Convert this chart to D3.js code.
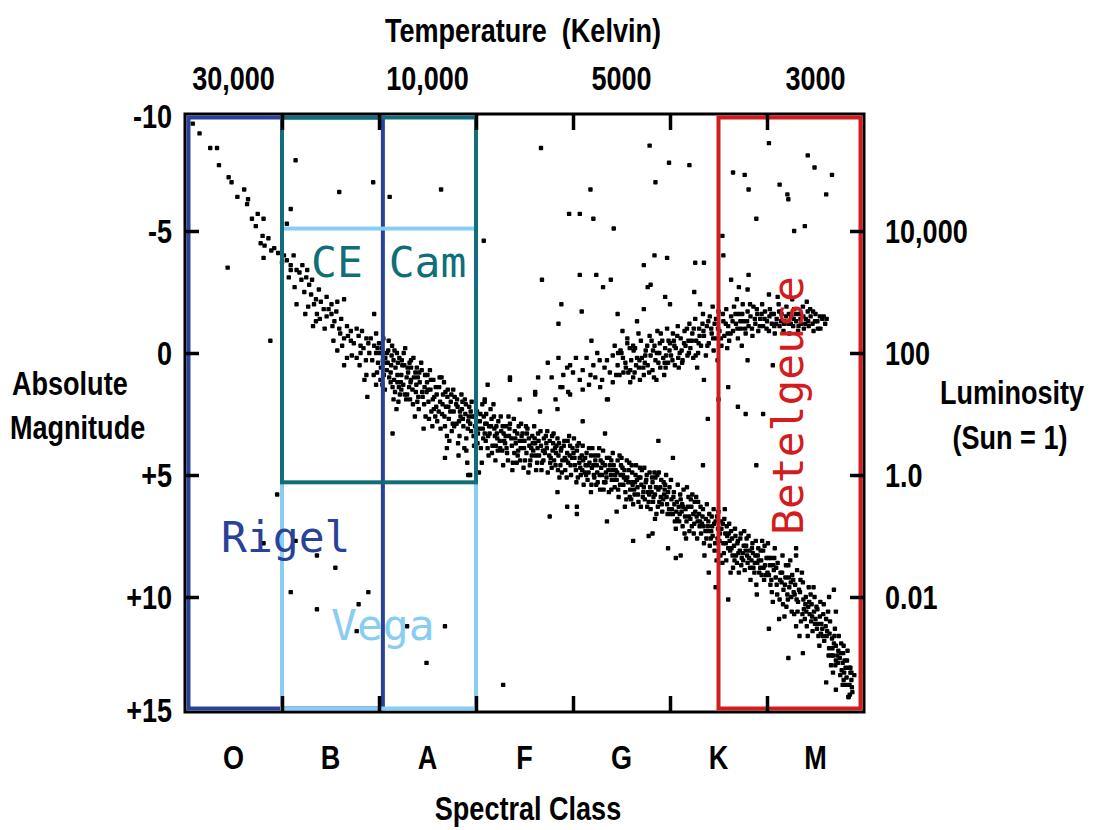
<!DOCTYPE html>
<html>
<head>
<meta charset="utf-8">
<script src="https://cdn.jsdelivr.net/npm/d3@7"></script>
<style>
  body { margin: 0; background: white; }
  .lbl { font-family: "Liberation Sans", Arial, sans-serif; font-weight: bold; fill: #000; }
  .star { font-family: "DejaVu Sans Mono", monospace; }
</style>
</head>
<body>
<div id="chart"></div>
<script>
// spectral subclass index: O0 = 0 ... M9 = 69 ; y = absolute magnitude
const spectralClasses = ["O", "B", "A", "F", "G", "K", "M"];
const classEdges = [10, 20, 30, 40, 50, 60];
const tempLabels = ["30,000", "10,000", "5000", "3000"];
const tempClasses = ["O", "A", "G", "M"];
const magTicks = [-10, -5, 0, 5, 10, 15];
const magLabels = ["-10", "-5", "0", "+5", "+10", "+15"];
const lumMags = [-5, 0, 5, 10];
const lumLabels = ["10,000", "100", "1.0", "0.01"];

const boxNames = ["Rigel", "Vega", "CE Cam", "Betelgeuse"];
const boxSpectral = [[0, 20.4], [10, 30], [10, 30], [55, 70]];
const boxMag = [[-10, 15], [-5.1, 15], [-10, 5.3], [-10, 15]];

const mainSequence = [
  [0.8,-9.4],[1.5,-9.0],[2.6,-8.4],[3.3,-8.4],[3.5,-7.7],[4.5,-7.2],[4.8,-7.0],[5.4,-6.4],[6.1,-6.7],[6.5,-6.3],[6.4,-6.1],[7.5,-5.7],[8.1,-5.5],[6.9,-5.5],[7.3,-5.2],[8.0,-4.8],[8.6,-4.7],[7.8,-4.5],[8.2,-4.4],[9.2,-4.3],[8.9,-4.2],[8.1,-3.9],
  [10.2,-4.0],[10.5,-3.8],[10.9,-3.6],[11.2,-4.0],[10.9,-3.4],[10.7,-3.1],[11.5,-3.4],[12.1,-3.6],[12.0,-3.0],[12.5,-3.1],[12.8,-2.8],[13.1,-3.0],[12.3,-2.5],[13.8,-2.6],[13.5,-2.2],[11.5,-2.0],[13.3,-2.0],[14.0,-2.1],[14.6,-2.3],[14.3,-1.8],[13.6,-1.6],[13.5,-1.3],[15.1,-2.0],[15.7,-2.1],[16.4,-2.2],[15.1,-1.6],[15.6,-1.7],[16.1,-1.4],[15.2,-1.1],[15.9,-1.0],[16.7,-1.1],[17.1,-0.9],[17.7,-1.0],[16.4,-0.6],[15.7,-0.1],[17.1,-0.5],[18.1,-0.3],[18.7,-0.6],[19.7,-0.8],[19.5,-1.6],[18.1,0.0],[19.0,0.0],[19.7,0.0],[16.7,0.2],[16.4,0.5],[17.7,0.2],[18.7,0.9],[19.8,0.8],[19.7,1.3],[18.8,1.8],
  [9.6,-4.1],[10.0,-3.7],[11.8,-3.3],[12.6,-3.4],[11.3,-2.7],[13.0,-2.4],[12.7,-1.9],[14.8,-1.8],[13.9,-1.4],[14.6,-1.5],[15.4,-1.3],[16.0,-0.8],[16.8,-0.7],[17.4,-0.4],[17.9,-0.7],[18.4,-0.2],[18.9,-0.4],[19.3,0.3],[19.9,0.4],[18.0,0.5],[17.2,0.1],[16.2,-0.3],[15.3,-0.5],[14.4,-1.0],[13.2,-1.1],[12.4,-1.6],[19.5,-0.3],[20.2,0.6],[20.0,-0.4],[18.5,1.1],
  [20.8,0.0],[21.5,0.3],[20.8,0.7],[21.9,0.9],[22.6,0.5],[23.3,0.6],[21.2,1.2],[22.3,1.5],[23.3,1.1],[21.5,1.9],[22.9,1.7],
  [20.3,-0.2],[20.5,0.9],[20.6,1.5],[20.9,0.4],[21.0,-0.5],[21.2,0.8],[21.4,1.4],[21.6,-0.1],[21.7,0.6],[21.9,1.2],[22.0,2.0],[22.1,0.2],[22.3,0.9],[22.5,1.3],[22.7,-0.2],[22.8,1.9],[23.0,0.8],[23.1,1.4],[23.3,0.3],[23.5,2.1],[23.6,1.0],[23.8,1.6],[23.9,0.6],[24.1,2.3],[24.2,1.2],[24.4,0.7],[24.5,1.8],[24.7,1.4],[24.8,2.6],[25.0,0.9],[25.1,2.0],[25.3,1.5],[25.4,2.4],[25.6,1.1],[25.7,1.8],[25.9,2.2],[26.0,2.8],[26.2,1.4],[26.3,2.0],[26.5,2.5],[26.6,1.7],[26.8,3.0],[26.9,2.2],[27.1,1.5],[27.2,2.7],[27.4,2.0],[27.5,3.2],[27.7,2.4],[27.8,1.8],[28.0,2.9],[28.1,2.2],[28.3,3.4],[28.4,2.6],[28.6,2.0],[28.7,3.0],[28.9,2.5],[29.0,3.5],[29.2,2.8],[29.3,2.2],[29.5,3.2],[29.6,2.6],[29.8,3.8],[29.9,3.0],[20.4,0.3],[21.3,0.1],[22.4,0.5],[23.2,1.9],[24.0,1.0],[24.9,1.6],[25.8,2.6],[26.7,1.2],[27.6,2.9],[28.5,1.7],[29.4,2.9],[23.7,2.6],[25.5,3.0],[27.0,3.4],[28.8,3.9],[21.8,2.3],[24.6,3.1],
  [18.25,-0.9],[18.65,0.3],[19.15,-0.6],[19.45,0.9],[19.85,-0.2],[20.15,1.1],[20.45,-0.6],[20.75,0.4],[21.05,1.0],[21.35,-0.3],[21.65,1.6],[21.95,0.4],[22.25,1.2],[22.55,0.0],[22.85,1.0],[23.15,0.4],[23.45,1.5],[23.75,0.8],[24.05,1.8],[24.35,0.4],[24.65,2.1],[24.95,1.2],[25.25,0.7],[25.55,1.9],[25.85,1.4],[26.15,2.4],[26.45,1.0],[26.75,2.6],[27.05,1.8],[27.35,2.4],[27.65,1.5],[27.95,2.1],[28.25,2.8],[28.55,2.3],[28.85,1.9],[29.15,3.1],[29.45,2.4],[29.75,3.4],[22.15,1.7],[23.95,2.0],[25.15,2.7],[26.35,3.1],[27.25,3.6],[28.15,3.7],
  [20.05,0.0],[20.35,1.3],[20.65,0.2],[20.95,-0.1],[21.25,0.5],[21.55,1.1],[21.85,0.0],[22.05,1.4],[22.35,0.3],[22.65,1.7],[22.95,0.6],[23.25,1.2],[23.55,0.2],[23.85,1.3],[24.15,0.8],[24.45,1.6],[24.75,0.9],[25.05,1.5],[25.35,1.1],[25.65,2.3],[25.95,1.7],[26.25,1.0],[26.55,2.1],[26.85,1.6],[27.15,2.2],[27.45,1.7],[27.75,3.0],[28.05,1.9],[28.35,2.4],[28.65,2.7],[28.95,2.1],[29.25,2.6],[29.55,2.0],[29.85,2.6],
  [30.1,2.4],[30.2,3.3],[30.4,2.8],[30.5,3.9],[30.7,3.1],[30.8,2.6],[31.0,3.6],[31.1,2.9],[31.3,4.2],[31.4,3.3],[31.6,2.7],[31.7,3.8],[31.9,3.1],[32.0,4.4],[32.2,3.5],[32.3,2.8],[32.5,3.9],[32.6,3.2],[32.8,4.6],[32.9,3.6],[33.1,3.0],[33.2,4.1],[33.4,3.4],[33.5,2.9],[33.7,3.8],[33.8,4.5],[34.0,3.2],[34.1,3.7],[34.3,4.2],[34.4,3.0],[34.6,3.9],[34.7,3.4],[34.9,4.7],[35.0,3.6],[35.2,4.1],[35.3,3.1],[35.5,3.8],[35.6,4.4],[35.8,3.4],[35.9,4.0],[36.1,3.7],[36.2,4.8],[36.4,3.3],[36.5,4.2],[36.7,3.8],[36.8,4.5],[37.0,3.5],[37.1,4.1],[37.3,3.9],[37.4,4.9],[37.6,3.6],[37.7,4.3],[37.9,4.0],[38.0,3.3],[38.2,4.6],[38.3,3.8],[38.5,4.2],[38.6,5.1],[38.8,3.9],[38.9,4.4],[39.1,3.6],[39.2,4.8],[39.4,4.1],[39.5,4.5],[39.7,3.8],[39.8,5.0],[39.9,4.3],[30.6,4.5],[31.5,2.3],[32.1,3.0],[33.0,3.7],[33.9,2.7],[34.8,3.3],[35.4,4.9],[36.0,3.0],[36.9,4.0],[37.8,4.7],[38.4,3.5],[39.3,4.4],[31.2,3.9],[32.7,4.0],[34.2,4.5],[35.7,3.9],[37.2,3.4],[38.7,4.6],[39.6,3.4],[33.3,4.4],[36.3,4.5],[30.9,3.3],[34.5,3.6],
  [30.15,3.7],[30.45,2.5],[30.75,3.5],[31.05,2.5],[31.35,3.0],[31.65,4.1],[31.95,3.4],[32.25,4.0],[32.55,2.6],[32.85,3.3],[33.15,3.9],[33.45,3.1],[33.75,4.8],[34.05,3.5],[34.35,4.0],[34.65,2.9],[34.95,3.9],[35.25,3.3],[35.55,4.6],[35.85,3.7],[36.15,4.2],[36.45,3.6],[36.75,4.8],[37.05,4.0],[37.35,3.2],[37.65,4.5],[37.95,3.7],[38.25,4.1],[38.55,3.7],[38.85,4.9],[39.15,4.3],[39.45,3.6],[39.75,4.6],[32.05,3.8],[35.05,4.4],[38.05,4.4],
  [30.05,2.8],[30.35,3.1],[30.65,2.1],[30.95,2.9],[31.25,3.4],[31.55,3.0],[31.85,2.6],[32.15,3.3],[32.45,3.6],[32.75,3.0],[33.05,3.4],[33.35,2.6],[33.65,3.5],[33.95,4.1],[34.25,3.3],[34.55,4.4],[34.85,3.6],[35.15,3.0],[35.45,3.5],[35.75,4.2],[36.05,3.5],[36.35,3.9],[36.65,3.2],[36.95,4.4],[37.25,3.7],[37.55,4.2],[37.85,3.4],[38.15,3.9],[38.45,4.8],[38.75,4.0],[39.05,3.8],[39.35,5.1],[39.65,4.2],[39.95,3.9],
  [40.1,3.5],[40.2,4.6],[40.4,4.0],[40.5,5.1],[40.7,4.3],[40.8,5.0],[41.0,3.8],[41.1,5.4],[41.3,4.6],[41.4,4.1],[41.6,4.9],[41.7,4.5],[41.9,5.4],[42.0,3.9],[42.2,5.1],[42.3,4.4],[42.5,4.9],[42.6,4.2],[42.8,5.6],[42.9,4.7],[43.1,4.0],[43.2,5.3],[43.4,4.9],[43.5,4.3],[43.7,5.7],[43.8,4.6],[44.0,5.2],[44.1,4.1],[44.3,5.5],[44.4,4.8],[44.6,4.4],[44.7,5.9],[44.9,5.0],[45.0,4.3],[45.2,5.4],[45.3,4.8],[45.5,6.0],[45.6,5.1],[45.8,4.5],[45.9,5.6],[46.1,4.9],[46.2,6.2],[46.4,5.3],[46.5,4.6],[46.7,5.8],[46.8,5.1],[47.0,6.3],[47.1,4.8],[47.3,5.5],[47.4,6.0],[47.6,5.0],[47.7,5.7],[47.9,4.9],[48.0,6.4],[48.2,5.3],[48.3,5.9],[48.5,5.1],[48.6,6.6],[48.8,5.6],[48.9,6.1],[49.1,5.2],[49.2,6.5],[49.4,5.8],[49.5,5.4],[49.7,6.2],[49.8,5.7],
  [40.3,4.8],[40.9,4.2],[41.5,5.2],[42.1,4.6],[42.7,3.9],[43.3,4.6],[43.9,5.0],[44.5,5.2],[45.1,4.7],[45.7,5.3],[46.3,5.6],[46.9,4.7],[47.5,5.3],[48.1,5.7],[48.7,5.0],[49.3,6.0],[49.9,6.4],[41.2,4.9],[43.0,5.0],[44.2,4.6],[45.4,5.7],[46.6,5.2],[47.8,6.1],[49.0,5.5],[40.6,3.7],[42.4,5.4],[44.8,4.2],[46.0,6.0],[47.2,5.9],[48.4,4.9],[49.6,5.0],
  [40.15,4.3],[40.45,3.8],[40.75,4.7],[41.05,4.4],[41.35,5.0],[41.65,3.9],[41.95,4.7],[42.25,4.2],[42.55,5.3],[42.85,4.4],[43.15,5.6],[43.45,5.1],[43.75,4.3],[44.05,4.8],[44.35,5.0],[44.65,5.6],[44.95,4.6],[45.25,5.1],[45.55,4.4],[45.85,5.9],[46.15,5.4],[46.45,5.0],[46.75,6.1],[47.05,5.4],[47.35,4.7],[47.65,6.3],[47.95,5.5],[48.25,6.1],[48.55,5.5],[48.85,4.9],[49.15,6.2],[49.45,5.6],[49.75,6.6],[41.85,5.7],[43.95,5.6],[46.05,4.6],[48.45,6.8],[45.35,6.3],
  [40.05,4.1],[40.35,5.3],[40.65,4.5],[40.95,4.8],[41.25,4.3],[41.55,4.6],[41.85,4.2],[42.15,5.0],[42.45,4.6],[42.75,5.0],[43.05,4.5],[43.35,5.3],[43.65,4.8],[43.95,4.4],[44.25,5.2],[44.55,4.9],[44.85,5.4],[45.15,5.0],[45.45,5.2],[45.75,4.8],[46.05,5.3],[46.35,5.8],[46.65,5.5],[46.95,5.1],[47.25,5.7],[47.55,5.2],[47.85,5.8],[48.15,5.1],[48.45,5.8],[48.75,6.3],[49.05,5.9],[49.35,5.3],[49.65,5.9],[49.95,5.5],
  [50.1,5.2],[50.2,6.4],[50.4,5.7],[50.5,6.9],[50.7,6.1],[50.8,5.4],[51.0,6.6],[51.1,6.0],[51.3,7.1],[51.4,5.6],[51.6,6.4],[51.7,6.9],[51.9,5.9],[52.0,7.3],[52.2,6.3],[52.3,5.8],[52.5,7.0],[52.6,6.5],[52.8,7.6],[52.9,6.1],[53.1,6.9],[53.2,7.4],[53.4,6.4],[53.5,7.8],[53.7,6.8],[53.8,6.2],[54.0,7.3],[54.1,7.9],[54.3,6.7],[54.4,7.5],[54.6,8.1],[54.7,6.9],[54.9,7.6],[55.0,6.5],[55.2,8.3],[55.3,7.2],[55.5,7.8],[55.6,6.8],[55.8,8.5],[55.9,7.5],[56.1,7.0],[56.2,8.1],[56.4,7.6],[56.5,8.8],[56.7,7.2],[56.8,8.3],[57.0,7.7],[57.1,9.0],[57.3,7.4],[57.4,8.4],[57.6,7.9],[57.7,8.9],[57.9,7.6],[58.0,8.6],[58.2,8.1],[58.3,9.3],[58.5,7.8],[58.6,8.8],[58.8,8.3],[58.9,9.5],[59.1,8.0],[59.2,9.0],[59.4,8.5],[59.5,7.7],[59.7,9.3],[59.8,8.7],
  [50.3,6.6],[50.9,6.3],[51.5,7.4],[52.1,6.8],[52.7,5.9],[53.3,7.0],[53.9,7.1],[54.5,6.4],[55.1,7.7],[55.7,7.4],[56.3,7.3],[56.9,8.6],[57.5,8.2],[58.1,7.5],[58.7,9.0],[59.3,8.8],[59.9,9.1],[51.2,6.5],[53.0,6.6],[54.2,7.6],[55.4,8.6],[56.6,7.9],[57.8,8.1],[59.0,8.6],[50.6,7.2],[52.4,6.6],[54.8,8.5],[56.0,8.0],[57.2,8.1],[58.4,8.5],[59.6,8.1],
  [50.15,6.0],[50.45,6.2],[50.75,6.8],[51.05,5.8],[51.35,6.3],[51.65,7.6],[51.95,6.7],[52.25,7.1],[52.55,6.1],[52.85,6.9],[53.15,6.3],[53.45,7.1],[53.75,7.6],[54.05,6.6],[54.35,7.1],[54.65,7.8],[54.95,7.2],[55.25,6.9],[55.55,8.2],[55.85,7.1],[56.15,7.7],[56.45,8.3],[56.75,7.5],[57.05,8.2],[57.35,8.7],[57.65,7.3],[57.95,8.3],[58.25,8.8],[58.55,8.2],[58.85,7.7],[59.15,8.5],[59.45,9.1],[59.75,7.9],[53.55,8.3],[56.25,9.0],[58.95,9.9],[51.75,5.5],[55.65,6.4],
  [50.05,6.6],[50.35,5.9],[50.65,6.5],[50.95,6.9],[51.25,6.2],[51.55,6.7],[51.85,6.3],[52.15,6.0],[52.45,7.4],[52.75,6.7],[53.05,7.1],[53.35,6.7],[53.65,7.3],[53.95,6.9],[54.25,7.3],[54.55,7.0],[54.85,6.7],[55.15,7.4],[55.45,7.0],[55.75,7.8],[56.05,7.4],[56.35,8.0],[56.65,8.5],[56.95,7.8],[57.25,7.6],[57.55,8.5],[57.85,7.9],[58.15,8.4],[58.45,8.0],[58.75,8.6],[59.05,8.3],[59.35,8.1],[59.65,8.8],[59.95,8.4],
  [60.1,7.8],[60.2,9.1],[60.4,8.4],[60.5,9.8],[60.7,8.9],[60.8,8.0],[61.0,9.5],[61.1,8.6],[61.3,10.1],[61.4,9.0],[61.6,8.3],[61.7,9.7],[61.9,9.2],[62.0,10.4],[62.2,8.7],[62.3,9.6],[62.5,10.0],[62.6,9.1],[62.8,10.7],[62.9,9.5],[63.1,8.9],[63.2,10.2],[63.4,9.8],[63.5,11.0],[63.7,9.4],[63.8,10.5],[64.0,10.0],[64.1,11.2],[64.3,9.6],[64.4,10.7],[64.6,10.3],[64.7,11.4],[64.9,10.0],[65.0,10.9],[65.2,10.5],[65.3,11.6],[65.5,10.2],[65.6,11.1],[65.8,10.7],[65.9,11.8],[66.1,10.9],[66.2,11.4],[66.4,12.1],[66.5,11.0],[66.7,11.7],[66.8,12.4],[67.0,11.3],[67.1,12.0],[67.3,12.7],[67.4,11.6],[67.6,12.3],[67.7,13.0],[67.9,12.0],[68.0,12.6],[68.2,13.3],[68.3,12.2],[68.5,13.6],[68.6,12.9],[68.8,13.9],[69.0,13.2],
  [60.3,8.7],[60.9,9.2],[61.5,9.4],[62.1,9.9],[62.7,9.3],[63.3,9.7],[63.9,10.9],[64.5,9.9],[65.1,10.4],[65.7,11.3],[66.3,10.6],[66.9,11.9],[67.5,12.5],[68.1,12.9],[68.7,13.4],[60.6,10.2],[61.8,10.8],[63.0,11.2],[64.2,11.6],[65.4,12.0],[66.6,12.8],[67.8,13.6],[68.4,14.1],[62.4,8.5],[63.6,9.0],[64.8,9.6],
  [60.15,8.4],[60.45,9.3],[60.75,8.4],[61.05,9.9],[61.35,9.3],[61.65,10.3],[61.95,8.7],[62.25,9.2],[62.55,10.6],[62.85,9.9],[63.15,10.6],[63.45,9.3],[63.75,10.1],[64.05,10.6],[64.35,10.2],[64.65,10.8],[64.95,11.1],[65.25,11.1],[65.55,11.5],[65.85,10.3],[66.15,11.6],[66.45,11.5],[66.75,12.1],[67.05,12.8],[67.35,12.2],[67.65,11.9],[67.95,13.1],[68.25,12.6],[68.55,14.0],[63.35,11.6],[61.25,10.9],
  [60.05,9.0],[60.35,9.5],[60.65,8.7],[60.95,8.8],[61.55,9.0],[61.85,9.5],[62.15,10.1],[62.45,9.4],[62.75,9.8],[63.05,10.1],[63.65,10.7],[63.95,10.3],[64.25,10.4],[64.55,11.0],[64.85,10.6],[65.15,11.3],[65.45,10.8],[65.75,11.6],[66.05,11.2],[66.35,12.4],[66.65,12.4],[66.95,11.6],[67.25,12.4],[67.55,13.2],[67.85,12.3],[68.15,13.6],[68.45,12.9],[68.75,13.7]
];

const giants = [
  [36.4,1.0],[37.4,0.4],[36.1,1.7],[34.5,1.9],[33.5,1.1],[31.2,1.3],[30.9,1.9],[38.5,0.2],[39.7,0.5],[39.4,0.6],[40.0,0.8],[41.0,0.7],[41.4,0.2],[42.1,0.5],[42.5,0.0],[43.5,0.3],[44.1,0.1],[44.6,0.5],[43.8,0.8],[45.2,0.8],[45.9,0.7],[46.6,0.2],[40.7,1.1],[41.8,0.9],[43.0,1.1],[44.1,1.2],[45.9,1.2],[41.0,1.5],[38.9,1.4],[39.7,1.7],[43.6,1.9],[37.8,1.0],[38.2,1.9],[42.8,1.4],[40.3,0.2],[39.0,0.9],[42.3,1.0],
  [44.3,-0.3],[44.8,0.9],[45.0,0.0],[45.4,0.4],[45.6,-0.4],[46.0,0.3],[46.2,1.0],[46.4,-0.2],[46.8,0.6],[47.0,-0.5],[47.1,0.2],[47.3,0.9],[47.5,-0.1],[47.7,0.5],[47.9,-0.7],[48.0,0.1],[48.2,0.7],[48.4,-0.3],[48.5,0.3],[48.7,-0.9],[48.9,0.0],[49.0,0.6],[49.2,-0.5],[49.3,0.2],[49.5,-0.2],[49.7,-1.0],[49.8,0.4],[50.0,-0.4],[50.1,0.1],[50.3,-0.8],[50.5,0.5],[50.6,-0.2],[50.8,-1.1],[51.0,0.0],[51.1,-0.6],[51.3,0.3],[51.5,-0.9],[51.6,-0.3],[51.8,0.1],[52.0,-1.2],[44.9,-0.1],[45.7,0.8],[46.5,0.5],[47.4,0.4],[48.1,-0.5],[48.8,0.4],[49.6,0.1],[50.4,-0.5],[51.2,-0.1],[51.9,-0.5],[46.9,1.1],[49.4,0.9],[50.9,0.6],
  [52.1,-0.2],[52.3,-0.8],[52.4,0.2],[52.6,-1.4],[52.7,-0.5],[52.9,0.0],[53.0,-1.0],[53.2,-0.3],[53.4,-1.6],[53.5,-0.7],[53.7,0.1],[53.8,-1.1],[54.0,-0.4],[54.1,-1.5],[54.3,-0.8],[54.5,-0.1],[54.6,-1.2],[54.8,-0.6],[55.0,-1.7],[55.1,-0.9],[55.3,-0.3],[55.5,-1.3],[55.6,-0.7],[55.8,-1.8],[56.0,-1.1],[56.1,-0.5],[56.3,-1.5],[56.5,-0.9],[56.6,-1.9],[56.8,-1.2],[57.0,-0.6],[57.1,-1.6],[57.3,-1.0],[57.5,-2.0],[57.6,-1.3],[57.8,-0.8],[58.0,-1.7],[58.1,-1.1],[58.3,-1.5],[58.5,-0.7],[58.6,-1.9],[58.8,-1.2],[59.0,-1.6],[59.1,-0.9],[59.3,-1.4],[59.5,-2.0],[59.6,-1.1],[59.8,-1.7],[53.1,-2.0],[54.4,-1.9],[55.9,-0.2],[57.4,-0.3],[52.8,0.6],[54.9,0.3],[56.9,-2.2],
  [60.0,-1.3],[60.2,-0.9],[60.3,-1.8],[60.5,-1.2],[60.7,-1.6],[60.8,-0.8],[61.0,-1.4],[61.2,-2.0],[61.3,-1.1],[61.5,-1.6],[61.7,-0.9],[61.8,-1.3],[62.0,-1.9],[62.2,-1.2],[62.3,-0.8],[62.5,-1.5],[62.7,-1.1],[62.8,-1.8],[63.0,-1.3],[63.2,-0.9],[63.3,-1.6],[63.5,-1.2],[63.7,-1.9],[63.8,-1.0],[64.0,-1.4],[64.2,-1.7],[64.3,-1.1],[64.5,-1.5],[64.7,-1.2],[64.8,-0.9],[65.0,-1.6],[65.2,-1.3],[65.5,-1.0],[65.7,-1.4],[66.0,-1.2],[61.1,-2.3],[62.6,-2.2],[64.1,-2.1],
  [45.15,0.2],[45.85,-0.2],[46.35,0.8],[46.75,-0.8],[47.25,0.6],[47.65,-0.3],[48.35,1.0],[48.65,0.0],[49.05,-0.8],[49.55,0.6],[49.85,-0.5],[50.25,0.3],[50.75,-0.7],[51.25,0.4],[51.75,-1.0],[52.25,-0.5],[52.65,0.1],[53.05,-0.7],[53.35,-1.2],[53.85,-0.3],[54.25,-1.0],[54.75,-1.4],[55.25,-0.6],[55.75,-1.2],[56.25,-0.8],[56.75,-1.6],[57.25,-1.3],[57.75,-1.0],[58.25,-2.0],[58.75,-1.4],[59.25,-1.1],[59.75,-1.4],[60.25,-1.5],[60.75,-1.1],[61.25,-1.7],[61.75,-1.2],[62.25,-1.6],[62.75,-1.4],[63.25,-1.1],[63.75,-1.5],[64.25,-1.3],[64.75,-1.7],[65.25,-1.0],[65.85,-1.5],[43.25,0.6],[44.45,0.9],[42.75,0.3],[41.65,1.3],
  [44.65,0.0],[45.45,0.6],[46.25,-0.1],[46.85,0.3],[47.45,0.1],[47.85,0.8],[48.25,-0.1],[48.95,-0.4],[49.45,0.4],[49.95,-0.1],[50.45,-0.3],[50.85,0.2],[51.45,-0.4],[51.95,0.0],[52.45,-1.0],[52.95,-0.4],[53.45,-0.9],[53.95,-1.3],[54.45,-0.6],[54.95,-1.0],[55.45,-1.6],[55.95,-0.8],[56.45,-1.3],[56.95,-1.0],[57.45,-1.6],[57.95,-1.3],[58.45,-1.0],[58.95,-1.8],[59.45,-1.6],[59.95,-1.0],[60.45,-1.6],[60.95,-1.2],[61.45,-1.3],[61.95,-1.5],[62.45,-1.2],[62.95,-1.6],[63.45,-1.4],[63.95,-1.2],[64.45,-1.8],[64.95,-1.3],[65.45,-1.5],[66.15,-1.4],
  [33.5,1.0],[36.1,1.6],[38.7,1.4],[39.5,1.6],[43.5,1.9],[56.0,1.4],[36.6,2.4],[38.4,2.3],[30.9,2.0],[31.8,2.1],[55.0,1.9],[60.6,0.5],[58.0,0.3],[57.0,2.2],[48.6,1.1],[53.5,1.1]
];

const supergiants = [
  [11.4,-7.9],[15.9,-6.6],[19.4,-7.0],[21.1,-6.4],[10.9,-5.9],[10.5,-5.3],
  [26.4,-6.7],[36.7,-8.4],[41.8,-6.7],[39.6,-5.7],[40.7,-5.7],[42.1,-5.5],[44.2,-5.1],[30.8,-4.6],[36.8,-3.0],[40.7,-3.2],[42.4,-3.2],[43.1,-2.7],[43.9,-3.0],[38.8,-2.0],[40.9,-1.7],[44.6,-1.6],[38.5,-1.2],[46.6,-1.3],[41.9,-0.5],[45.1,-0.9],[45.6,-0.6],[46.2,-0.3],
  [47.9,-8.5],[49.9,-7.8],[52.0,-7.7],[48.5,-7.0],[60.2,-8.6],[64.2,-8.1],[64.9,-7.6],[66.7,-7.3],[56.5,-7.4],[57.7,-7.3],[58.1,-6.7],[61.3,-6.9],[62.2,-6.3],[62.1,-6.5],[66.1,-6.5],[58.9,-5.5],[63.9,-5.2],[62.8,-5.0],[55.4,-4.8],[55.5,-4.0],[48.4,-4.0],[49.7,-3.9],[52.6,-3.7],[53.5,-3.7],[47.3,-3.6],[48.0,-2.8],[47.7,-2.7],[49.5,-2.3],[50.0,-2.0],[52.5,-2.5],[47.3,-1.8],[56.3,-3.0],[57.1,-2.7],[58.0,-2.6],[58.1,-3.2],[60.2,-2.4]
];

const scattered = [
  [4.4,-3.5],[8.8,-0.5],
  [9.5,5.8],[8.1,7.8],[11.4,7.7],[13.6,8.3],[15.5,8.8],[10.9,9.8],[13.6,10.5],[18.9,9.8],[17.9,10.3],[17.7,11.4],[22.9,11.2],[26.8,11.2],[24.9,12.7],[32.8,13.6],
  [29.1,4.5],[29.4,5.0],[30.3,4.9],[27.0,3.9],[21.4,3.3],[26.8,4.3],[29.0,4.0],[28.2,4.2],[29.2,5.0],
  [37.6,6.7],[39.4,6.3],[40.4,6.3],[40.4,6.6],[43.5,6.9],[38.4,5.7],[44.5,6.5],[46.2,7.7],[41.0,2.8],[43.3,3.3],
  [49.8,8.0],[51.1,8.3],[50.6,8.4],[47.8,7.5],[48.2,7.4],[54.7,9.6],[54.0,9.0],[56.0,10.1],
  [48.8,3.6],[50.3,4.3],[53.4,4.6],[53.9,2.7],[57.8,2.5],[59.6,2.5],[58.9,4.6],[63.0,8.0],[63.0,8.3],
  [62.2,12.5],[63.7,12.3],[60.2,11.3],[66.9,9.7],[67.1,10.6],[66.4,10.0],[67.1,12.6],[67.8,12.7],[66.8,13.1],[66.1,13.5],[67.1,13.8],[68.4,14.1],[68.7,13.1],[67.9,13.4],[68.6,13.1]
];

// ---- layout
const width = 1093, height = 830;
const frame = {l: 185, r: 864, t: 114, b: 712};
const fontSize = 33;
const narrow = 0.82;   // squeeze Liberation Sans Bold to a narrow face
const boxStyle = {
  "Rigel":      {color: "#28429a", lx: 221, ly: 552, rotate: false},
  "Vega":       {color: "#88cdf2", lx: 331, ly: 640, rotate: false},
  "CE Cam":     {color: "#116d79", lx: 311, ly: 277, rotate: false},
  "Betelgeuse": {color: "#d21c1e", lx: 803, ly: 535, rotate: true}
};

const svg = d3.select("#chart").append("svg")
  .attr("width", width)
  .attr("height", height)
  .style("background-color", "white");

const x = d3.scaleLinear().domain([0, 70]).range([frame.l, frame.r]);
const y = d3.scaleLinear().domain([-10, 15]).range([109, 719]);

// stars
const allStars = mainSequence.concat(giants, supergiants, scattered);
const dot = 4.4;
svg.append("g")
  .selectAll("rect")
  .data(allStars)
  .join("rect")
  .attr("x", d => x(d[0]) - dot / 2)
  .attr("y", d => y(d[1]) - dot / 2)
  .attr("width", dot)
  .attr("height", dot)
  .attr("rx", 0.9)
  .attr("fill", "#000");

// frame
svg.append("rect")
  .attr("x", frame.l).attr("y", frame.t)
  .attr("width", frame.r - frame.l).attr("height", frame.b - frame.t)
  .attr("fill", "none").attr("stroke", "#000").attr("stroke-width", 3);

// highlighted boxes
const inset = 3.5;
boxNames.forEach((name, i) => {
  const st = boxStyle[name];
  const x0 = Math.max(x(boxSpectral[i][0]), frame.l + inset);
  const x1 = Math.min(x(boxSpectral[i][1]), frame.r - inset);
  const y0 = Math.max(y(boxMag[i][0]), frame.t + inset);
  const y1 = Math.min(y(boxMag[i][1]), frame.b - inset);
  svg.append("rect")
    .attr("x", x0).attr("y", y0)
    .attr("width", x1 - x0).attr("height", y1 - y0)
    .attr("fill", "none")
    .attr("stroke", st.color)
    .attr("stroke-width", 4);
});

// inner ticks
function styleTicks(g) {
  g.select(".domain").remove();
  g.selectAll(".tick line").attr("stroke", "#000").attr("stroke-width", 3.5);
  g.selectAll(".tick text").remove();
}
svg.append("g").attr("transform", `translate(0,${frame.b})`)
  .call(d3.axisBottom(x).tickValues(classEdges).tickSize(-16)).call(styleTicks);
svg.append("g").attr("transform", `translate(0,${frame.t})`)
  .call(d3.axisTop(x).tickValues(classEdges).tickSize(-16)).call(styleTicks);
svg.append("g").attr("transform", `translate(${frame.l},0)`)
  .call(d3.axisLeft(y).tickValues(lumMags).tickSize(-14)).call(styleTicks);
svg.append("g").attr("transform", `translate(${frame.r},0)`)
  .call(d3.axisRight(y).tickValues(lumMags).tickSize(-14)).call(styleTicks);

// box labels
boxNames.forEach(name => {
  const st = boxStyle[name];
  svg.append("text")
    .attr("class", "star")
    .attr("transform", `translate(${st.lx},${st.ly})` + (st.rotate ? " rotate(-90)" : ""))
    .attr("font-size", 43)
    .attr("fill", st.color)
    .text(name);
});

// narrow bold labels
function label(px, py, txt, anchor) {
  svg.append("text")
    .attr("class", "lbl")
    .attr("transform", `translate(${px},${py}) scale(${narrow},1)`)
    .attr("text-anchor", anchor || "middle")
    .attr("font-size", fontSize)
    .style("white-space", "pre")
    .text(txt);
}

const classCenter = c => x(spectralClasses.indexOf(c) * 10 + 5);

spectralClasses.forEach(c => label(classCenter(c), 769, c));
tempLabels.forEach((t, i) => label(classCenter(tempClasses[i]), 90, t));
magTicks.forEach((m, i) =>
  label(172, Math.min(Math.max(y(m), frame.t + 2), frame.b - 2) + 12, magLabels[i], "end"));
lumMags.forEach((m, i) => label(885, y(m) + 12, lumLabels[i], "start"));

label(523, 42, "Temperature  (Kelvin)");
label(528, 820, "Spectral Class");
label(12, 395, "Absolute", "start");
label(10, 439, "Magnitude", "start");
label(1012, 404, "Luminosity");
label(1010, 449, "(Sun = 1)");
</script>
</body>
</html>
